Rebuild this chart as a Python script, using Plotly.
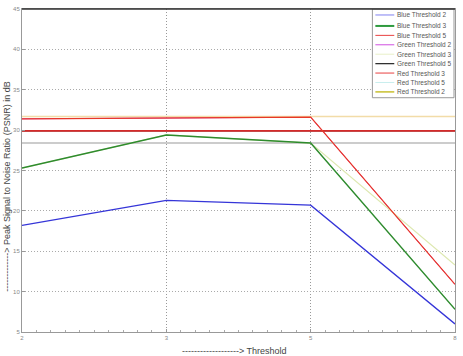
import plotly.graph_objects as go

x_labels = ["2", "3", "5", "8"]
x_pos = [1, 2, 3, 4]

blue_t2 = [18.2, 21.3, 20.7, 6.0]
blue_t3 = [25.3, 29.4, 28.4, 7.8]
blue_t5 = [31.4, 31.5, 31.6, 10.9]
green_t2 = [31.4, 31.5, 31.6, 10.9]
green_t3 = [25.3, 29.4, 28.4, 13.3]
green_t5 = [29.9, 29.9, 29.9, 29.9]
red_t3 = [29.9, 29.9, 29.9, 29.9]
red_t5 = [28.4, 28.4, 28.4, 28.4]
red_t2 = [31.7, 31.7, 31.7, 31.7]

# (name, values, color, width)  drawn in this order
series = [
    ("Green Threshold 2", green_t2, "#d040d0", 1),
    ("Green Threshold 5", green_t5, "#202020", 1),
    ("Red Threshold 5", red_t5, "#cccccc", 2),
    ("Red Threshold 2", red_t2, "#f2dca8", 1.5),
    ("Green Threshold 3", green_t3, "#dde8b0", 1.2),
    ("Red Threshold 3", red_t3, "#d42a2a", 1.8),
    ("Blue Threshold 5", blue_t5, "#e83828", 1.2),
    ("Blue Threshold 3", blue_t3, "#2e8b2e", 1.4),
    ("Blue Threshold 2", blue_t2, "#3535d8", 1.3),
]

legend_order = [
    ("Blue Threshold 2", "#8080f0", 1),
    ("Blue Threshold 3", "#2e9a3e", 2),
    ("Blue Threshold 5", "#e84040", 1),
    ("Green Threshold 2", "#d050e0", 1),
    ("Green Threshold 3", "#e8f0c8", 1),
    ("Green Threshold 5", "#303030", 1.3),
    ("Red Threshold 3", "#e84040", 1),
    ("Red Threshold 5", "#c8eeee", 1),
    ("Red Threshold 2", "#c8c030", 1.5),
]

W, H = 463, 356
ML, MR, MT, MB = 22, 6, 8, 24
PW, PH = W - ML - MR, H - MT - MB

def px(x):
    return (x - ML) / PW

def py(y):
    return (H - MB - y) / PH

fig = go.Figure()
for name, vals, color, width in series:
    fig.add_trace(go.Scatter(
        x=x_pos, y=vals, mode="lines", name=name,
        line=dict(color=color, width=width), showlegend=False,
    ))

shapes = [
    dict(type="rect", xref="paper", yref="paper", x0=px(374), x1=px(456), y0=py(97), y1=py(8),
         line=dict(color="#999", width=1), fillcolor="white", layer="above"),
    dict(type="line", xref="paper", yref="paper", x0=0, x1=1, y0=1, y1=1,
         line=dict(color="#333", width=1.5), layer="above"),
]
annotations = []
for i, (name, color, lw) in enumerate(legend_order):
    yc = 14 + (0 if i == 0 else 11 + (i - 1) * 9.45)
    shapes.append(dict(type="line", xref="paper", yref="paper", x0=px(377), x1=px(396),
                       y0=py(yc), y1=py(yc), line=dict(color=color, width=lw), layer="above"))
    annotations.append(dict(text=name, xref="paper", yref="paper", x=px(397), y=py(yc),
                            xanchor="left", yanchor="middle", showarrow=False,
                            font=dict(size=6.5, color="#555")))

annotations += [
    dict(text="-------------------> Threshold", xref="paper", yref="paper",
         x=0.49, y=0, yshift=-19, showarrow=False, xanchor="center", yanchor="middle",
         font=dict(size=9, color="#444")),
    dict(text="-------------> Peak Signal to Noise Ratio (PSNR) in dB", xref="paper", yref="paper",
         x=0, y=0.45, xshift=-15, showarrow=False, textangle=-90,
         xanchor="center", yanchor="middle",
         font=dict(size=9, color="#444")),
]

fig.update_layout(
    width=W, height=H,
    margin=dict(l=ML, r=MR, t=MT, b=MB),
    plot_bgcolor="white", paper_bgcolor="white",
    font=dict(family="Liberation Sans, Arial, sans-serif", color="#666"),
    showlegend=False,
    xaxis=dict(
        range=[1, 4], tickvals=x_pos, ticktext=x_labels,
        showgrid=True, gridcolor="#999", griddash="1px,2px", gridwidth=1,
        showline=True, linecolor="#999", linewidth=1, mirror=True,
        ticks="inside", ticklen=3, tickcolor="#999",
        minor=dict(nticks=10, ticks="inside", ticklen=2, tickcolor="#aaa", showgrid=False),
        tickfont=dict(size=6, color="#888"), zeroline=False,
    ),
    yaxis=dict(
        range=[5, 45], dtick=5,
        showgrid=True, gridcolor="#aaa", griddash="1px,2px", gridwidth=1,
        showline=True, linecolor="#999", linewidth=1, mirror=True,
        ticks="inside", ticklen=3, tickcolor="#999",
        tickfont=dict(size=6, color="#888"), zeroline=False,
    ),
    shapes=shapes,
    annotations=annotations,
)

fig.write_html("out.html")
